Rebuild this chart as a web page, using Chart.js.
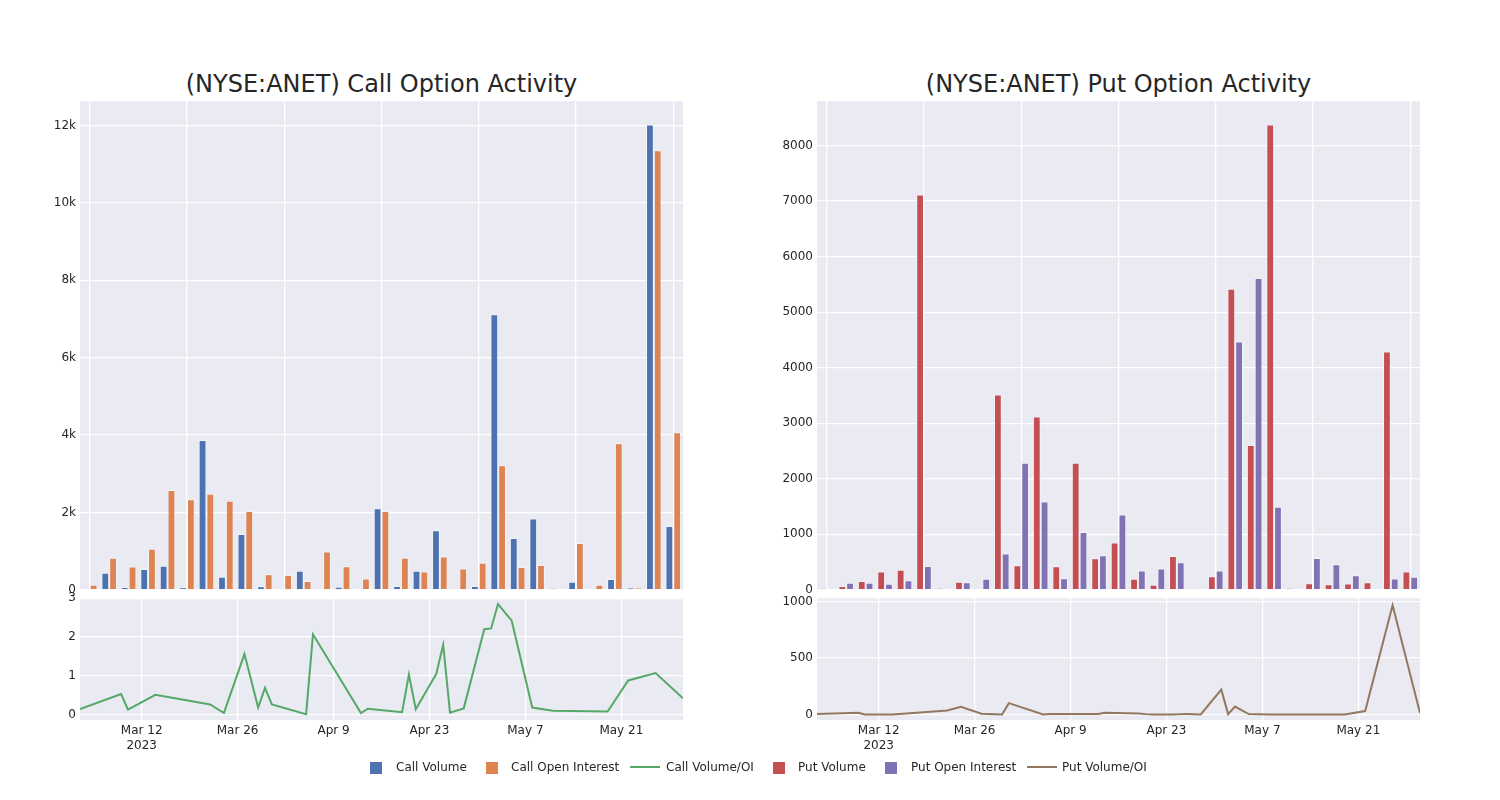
<!DOCTYPE html>
<html>
<head>
<meta charset="utf-8">
<script src="https://cdn.jsdelivr.net/npm/chart.js@4.4.0/dist/chart.umd.min.js"></script>
<style>
  body { margin: 0; background: #fff; font-family: "DejaVu Sans", sans-serif; color: #262626; }
  #page { position: relative; width: 1500px; height: 800px; overflow: hidden; }
  canvas { position: absolute; }
  .title { position: absolute; top: 70px; width: 603px; text-align: center; font-size: 24px; line-height: 28px; white-space: nowrap; }
  .leg { position: absolute; top: 760px; font-size: 12px; line-height: 14px; white-space: nowrap; }
  .sw { position: absolute; width: 12px; height: 12px; top: 762px; }
  .ln { position: absolute; width: 30px; height: 2px; top: 766px; }
</style>
</head>
<body>
<div id="page">
  <div class="title" style="left:80px">(NYSE:ANET) Call Option Activity</div>
  <div class="title" style="left:817px">(NYSE:ANET) Put Option Activity</div>

  <canvas id="callBars" width="700" height="511" style="left:0px;top:90px"></canvas>
  <canvas id="callLine" width="700" height="173" style="left:0px;top:587px"></canvas>
  <canvas id="putBars" width="700" height="511" style="left:737px;top:90px"></canvas>
  <canvas id="putLine" width="700" height="173" style="left:737px;top:587px"></canvas>

  <div class="sw" style="left:370px;background:#4C72B0"></div>
  <div class="leg" style="left:396px">Call Volume</div>
  <div class="sw" style="left:486px;background:#DD8452"></div>
  <div class="leg" style="left:511px">Call Open Interest</div>
  <div class="ln" style="left:630px;background:#55A868"></div>
  <div class="leg" style="left:666px">Call Volume/OI</div>
  <div class="sw" style="left:773px;background:#C44E52"></div>
  <div class="leg" style="left:798px">Put Volume</div>
  <div class="sw" style="left:885px;background:#8172B3"></div>
  <div class="leg" style="left:911px">Put Open Interest</div>
  <div class="ln" style="left:1027px;background:#937860"></div>
  <div class="leg" style="left:1062px">Put Volume/OI</div>
</div>

<script>
// ---------- data ----------
const dates = [
  "2023-03-03", "2023-03-09", "2023-03-10", "2023-03-14", "2023-03-22", "2023-03-24",
  "2023-03-27", "2023-03-29", "2023-03-30", "2023-03-31", "2023-04-05", "2023-04-06",
  "2023-04-13", "2023-04-14", "2023-04-19", "2023-04-20", "2023-04-21", "2023-04-24",
  "2023-04-25", "2023-04-26", "2023-04-28", "2023-05-01", "2023-05-02", "2023-05-03",
  "2023-05-05", "2023-05-08", "2023-05-11", "2023-05-19", "2023-05-22", "2023-05-26",
  "2023-05-30"
];

const callVolume = [18, 440, 75, 540, 620, 60, 3870, 340, 1440, 90, 0, 490, 30, 80, 10, 2110,
  100, 490, 1540, 20, 100, 7120, 1340, 1840, 36, 210, 10, 280, 45, 12030, 1650];
const callOpenInterest = [130, 830, 600, 1060, 2580, 2340, 2480, 2300, 2040, 400, 380, 230, 990,
  610, 290, 2040, 830, 470, 860, 550, 700, 3220, 590, 640, 15, 1210, 130, 3790, 50, 11360, 4070];
const callRatio = [0.14, 0.53, 0.13, 0.51, 0.26, 0.04, 1.56, 0.18, 0.69, 0.26, 0.01, 2.07, 0.04,
  0.15, 0.06, 1.03, 0.14, 1.05, 1.80, 0.05, 0.16, 2.20, 2.22, 2.85, 2.42, 0.18, 0.10, 0.08, 0.88,
  1.07, 0.42];

const putVolume = [25, 70, 160, 330, 360, 7120, 30, 143, 0, 3516, 443, 3120, 425, 2290, 568, 850,
  197, 90, 610, 18, 245, 5420, 2606, 8380, 30, 120, 102, 114, 138, 4290, 330];
const putOpenInterest = [10, 125, 125, 107, 173, 430, 0, 137, 197, 652, 2290, 1590, 210, 1040, 622,
  1358, 347, 383, 496, 0, 347, 4470, 5615, 1494, 12, 574, 460, 263, 5, 203, 233];
const putRatio = [5, 15, 0, 0, 35, 68, 6, 2, 0, 100, 0, 5, 5, 15, 8, 3, 0, 0, 3, 5, 0, 220, 3, 70,
  3, 0, 0, 0, 30, 967, 12];

// axis ticks
const tickDates = ["2023-03-12", "2023-03-26", "2023-04-09", "2023-04-23", "2023-05-07", "2023-05-21"];
const tickLabels = ["Mar 12", "Mar 26", "Apr 9", "Apr 23", "May 7", "May 21"];
const callBarTicks = [0, 2000, 4000, 6000, 8000, 10000, 12000];
const putBarTicks = [0, 1000, 2000, 3000, 4000, 5000, 6000, 7000, 8000];
const callRatioTicks = [0, 1, 2, 3];
const putRatioTicks = [0, 500, 1000];

// ---------- helpers ----------
const COLORS = {
  callVol: "#4C72B0", callOI: "#DD8452", callRatio: "#55A868",
  putVol: "#C44E52", putOI: "#8172B3", putRatio: "#937860"
};
const TEXT = "#262626";
const GRID = "#ffffff";
const PLOT_BG = "#EAEAF2";

Chart.defaults.font.family = "'DejaVu Sans', sans-serif";
Chart.defaults.font.size = 12;
Chart.defaults.color = TEXT;

// day number relative to Mar 12 2023
const base = Date.UTC(2023, 2, 12);
function dayNum(s) {
  const p = s.split("-").map(Number);
  return (Date.UTC(p[0], p[1] - 1, p[2]) - base) / 86400000;
}
const days = dates.map(dayNum);
const tickDays = tickDates.map(dayNum);

// paints the seaborn style grey plot area
const plotBackground = {
  id: "plotBackground",
  beforeDraw(chart) {
    const a = chart.chartArea;
    const ctx = chart.ctx;
    ctx.save();
    ctx.fillStyle = PLOT_BG;
    ctx.fillRect(a.left, a.top, a.right - a.left, a.bottom - a.top);
    ctx.restore();
  }
};

function fixedTicks(list) {
  return (s) => { s.ticks = list.map((v) => ({ value: v })); };
}

function barChart(id, volume, oi, volColor, oiColor, yMax, yTicks, fmt) {
  return new Chart(document.getElementById(id), {
    type: "bar",
    data: {
      labels: dates,
      datasets: [
        { data: volume, backgroundColor: volColor, borderColor: "rgba(255,255,255,0.45)", borderWidth: 1 },
        { data: oi, backgroundColor: oiColor, borderColor: "rgba(255,255,255,0.45)", borderWidth: 1 }
      ]
    },
    options: {
      responsive: false,
      animation: false,
      layout: { padding: { top: 10, bottom: 10, right: 17, left: 0 } },
      plugins: { legend: { display: false }, tooltip: { enabled: false } },
      datasets: { bar: { categoryPercentage: 0.8, barPercentage: 1.0 } },
      scales: {
        x: {
          offset: true,
          grid: {
            offset: false,
            drawTicks: false,
            lineWidth: 1.3,
            color: (c) => (c.index % 5 === 0 ? GRID : "rgba(0,0,0,0)")
          },
          border: { display: false },
          ticks: { display: false }
        },
        y: {
          min: 0,
          max: yMax,
          afterBuildTicks: fixedTicks(yTicks),
          afterFit: (s) => { s.width = 80; },
          grid: { color: GRID, lineWidth: 1.3, drawTicks: false },
          border: { display: false },
          ticks: { padding: 4, callback: fmt }
        }
      }
    },
    plugins: [plotBackground]
  });
}

function lineChart(id, ratio, color, yMin, yMax, yTicks) {
  return new Chart(document.getElementById(id), {
    type: "line",
    data: {
      datasets: [{
        data: days.map((d, i) => ({ x: d, y: ratio[i] })),
        borderColor: color,
        borderWidth: 2,
        pointRadius: 0,
        tension: 0,
        fill: false
      }]
    },
    options: {
      responsive: false,
      animation: false,
      layout: { padding: { top: 10, bottom: 0, right: 17, left: 0 } },
      plugins: { legend: { display: false }, tooltip: { enabled: false } },
      scales: {
        x: {
          type: "linear",
          min: days[0],
          max: days[days.length - 1],
          afterBuildTicks: fixedTicks(tickDays),
          afterFit: (s) => { s.height = 40; },
          grid: { color: GRID, lineWidth: 1.3, drawTicks: false },
          border: { display: false },
          ticks: {
            padding: 4,
            maxRotation: 0,
            autoSkip: false,
            callback: (v, i) => (i === 0 ? [tickLabels[i], "2023"] : tickLabels[i])
          }
        },
        y: {
          min: yMin,
          max: yMax,
          afterBuildTicks: fixedTicks(yTicks),
          afterFit: (s) => { s.width = 80; },
          grid: { color: GRID, lineWidth: 1.3, drawTicks: false },
          border: { display: false },
          ticks: { padding: 4, callback: (v) => String(v) }
        }
      }
    },
    plugins: [plotBackground]
  });
}

// ---------- charts ----------
barChart("callBars", callVolume, callOpenInterest, COLORS.callVol, COLORS.callOI, 12630, callBarTicks,
  (v) => (v === 0 ? "0" : v / 1000 + "k"));
lineChart("callLine", callRatio, COLORS.callRatio, -0.14, 3.0, callRatioTicks);

barChart("putBars", putVolume, putOpenInterest, COLORS.putVol, COLORS.putOI, 8800, putBarTicks,
  (v) => String(v));
lineChart("putLine", putRatio, COLORS.putRatio, -49, 1029, putRatioTicks);
</script>
</body>
</html>
